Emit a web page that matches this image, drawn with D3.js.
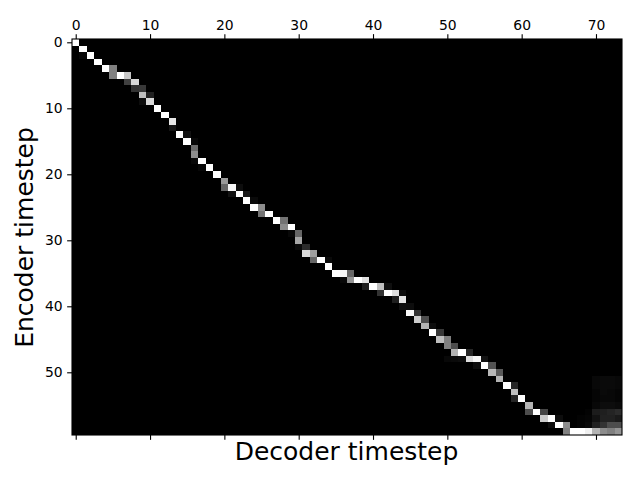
<!DOCTYPE html>
<html><head><meta charset="utf-8">
<script src="https://cdn.jsdelivr.net/npm/d3@7/dist/d3.min.js"></script>
<style>html,body{margin:0;padding:0;background:#fff}svg{display:block}text{font-family:"DejaVu Sans",sans-serif}</style>
</head><body><svg id="c" width="640" height="480"></svg>
<script>
const numCols = 74;
const numRows = 60;
const xTicks = [0,10,20,30,40,50,60,70];
const yTicks = [0,10,20,30,40,50];
const xTitle = "Decoder timestep";
const yTitle = "Encoder timestep";
// sparse attention weights: [encoder row, decoder column, weight]
const alignment = [
[0,0,1],[1,1,1],[2,1,.03],[2,2,1],[3,3,1],[4,4,1],[4,5,.5],[5,5,.5],[5,6,1],[5,7,.78],
[6,7,.25],[6,8,.85],[7,8,.2],[7,9,.22],[8,9,.75],[8,10,.13],[9,9,.05],[9,10,.85],
[10,11,1],[11,12,1],[12,13,.9],[13,13,.08],[14,14,1],[14,15,.07],[15,15,1],[15,16,.03],
[16,16,.42],[17,16,.55],[18,16,.03],[18,17,1],[19,17,.03],[19,18,1],[20,19,1],
[21,20,.6],[22,20,.4],[22,21,.97],[22,22,.05],[23,21,.07],[23,22,1],[23,23,.1],[24,23,1],[24,24,.04],
[25,24,1],[25,25,.55],[26,25,.45],[26,26,1],[27,27,1],[27,28,.45],[28,28,.55],[28,29,1],
[29,29,.03],[29,30,.4],[30,30,.65],[31,30,.04],[31,31,.17],[32,31,.85],[32,32,.62],
[33,32,.4],[33,33,1],[33,34,.04],[34,34,1],[35,35,1],[35,36,.97],[35,37,.4],
[36,36,.03],[36,37,.58],[36,38,1],[36,39,.88],[37,39,.12],[37,40,1],[37,41,.75],[37,42,.06],
[38,41,.2],[38,42,1],[38,43,.87],[38,44,.05],[39,43,.12],[39,44,.9],[40,44,.06],[40,45,.05],
[41,45,.97],[41,46,.2],[42,46,.8],[42,47,.3],[43,47,.7],[43,48,.05],[44,48,1],[44,49,.22],
[45,49,.75],[45,50,.5],[46,50,.5],[46,51,.3],[47,51,.7],[47,52,1],[47,53,.15],
[48,50,.03],[48,51,.04],[48,52,.05],[48,53,.87],[48,54,.97],[48,55,.07],
[49,54,.05],[49,55,1],[49,56,.32],[50,56,.72],[50,57,.35],[51,57,.7],
[52,58,1],[52,59,.15],[53,59,.75],[54,59,.15],[54,60,1],[55,61,.7],
[56,61,.3],[56,62,1],[56,63,.27],[57,63,.8],[57,64,1],[57,65,.05],[58,64,.05],[58,65,1],[58,66,.55],
[59,66,.5],[59,67,1],[59,68,1],[59,69,.94],[59,70,.7],[59,71,.55],[59,72,.5],[59,73,.58],
[51,70,.03],[51,71,.04],[51,72,.04],[51,73,.03],
[52,70,.03],[52,71,.04],[52,72,.04],[52,73,.03],
[53,70,.02],[53,71,.04],[53,72,.03],[53,73,.02],
[54,70,.02],[54,71,.03],[54,72,.03],[54,73,.02],
[55,70,.03],[55,71,.05],[55,72,.05],[55,73,.04],
[56,69,.01],[56,70,.11],[56,71,.12],[56,72,.14],[56,73,.17],
[57,68,.01],[57,69,.02],[57,70,.07],[57,71,.13],[57,72,.13],[57,73,.1],
[58,68,.01],[58,69,.03],[58,70,.13],[58,71,.2],[58,72,.3],[58,73,.3]
];

const svg = d3.select("#c");
const x = d3.scaleLinear().domain([-0.5, numCols-0.5]).range([72, 622]);
const y = d3.scaleLinear().domain([-0.5, numRows-0.5]).range([39, 435]);
const grey = d3.scaleLinear().domain([0,1]).range(["#000","#fff"]);

svg.append("rect").attr("x",x.range()[0]).attr("y",y.range()[0])
  .attr("width",x.range()[1]-x.range()[0]).attr("height",y.range()[1]-y.range()[0]).attr("fill","#000");
svg.append("g").selectAll("rect").data(alignment).join("rect")
  .attr("x",d=>x(d[1]-0.5)).attr("y",d=>y(d[0]-0.5))
  .attr("width",d=>x(d[1]+0.5)-x(d[1]-0.5)).attr("height",d=>y(d[0]+0.5)-y(d[0]-0.5))
  .attr("fill",d=>grey(d[2])).attr("shape-rendering","crispEdges");

function style(g, labels){
  g.selectAll(".domain").remove();
  g.selectAll("line").attr("stroke","#000").attr("stroke-width",1.1);
  g.selectAll("text").attr("fill","#000").style("font-size","13.9px").style("font-family","'DejaVu Sans'");
  if(!labels) g.selectAll("text").remove();
}
svg.append("g").attr("transform",`translate(0,${y.range()[0]})`)
  .call(d3.axisTop(x).tickValues(xTicks).tickFormat(d3.format("d")).tickSize(4.86).tickPadding(4)).call(style,true);
svg.append("g").attr("transform",`translate(0,${y.range()[1]})`)
  .call(d3.axisBottom(x).tickValues(xTicks).tickSize(4.86)).call(style,false);
svg.append("g").attr("transform",`translate(${x.range()[0]},0)`)
  .call(d3.axisLeft(y).tickValues(yTicks).tickFormat(d3.format("d")).tickSize(4.86).tickPadding(4.5)).call(style,true);

svg.append("rect").attr("x",x.range()[0]).attr("y",y.range()[0])
  .attr("width",x.range()[1]-x.range()[0]).attr("height",y.range()[1]-y.range()[0])
  .attr("fill","none").attr("stroke","#000").attr("stroke-width",1.1);

svg.append("text").attr("x",346.5).attr("y",459.5).attr("text-anchor","middle")
  .style("font-size","25px").attr("fill","#000").text(xTitle);
svg.append("text").attr("transform","translate(33,237.5) rotate(-90)").attr("text-anchor","middle")
  .style("font-size","25px").attr("fill","#000").text(yTitle);
</script></body></html>
